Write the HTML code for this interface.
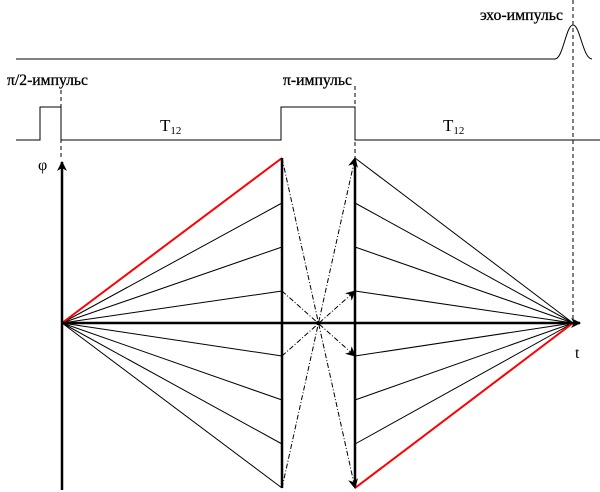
<!DOCTYPE html>
<html><head><style>body{margin:0;background:#fff}svg{display:block}</style></head><body>
<svg width="600" height="492" viewBox="0 0 600 492" xmlns="http://www.w3.org/2000/svg" font-family="Liberation Serif, serif">
<defs>
<marker id="a" markerWidth="10" markerHeight="10" refX="9" refY="5" orient="auto" markerUnits="userSpaceOnUse"><path d="M0,0 L10,5 L0,10 L3,5 Z" fill="#000"/></marker>
</defs>
<g stroke="#000" stroke-width="1" fill="none">
<path d="M16,59 H555 C563,59 566,25 573,25 C580,25 583,59 592,59"/>
<path d="M16,140 H40 V107 H61 V140 H281 V107 H355 V140 H600"/>
</g>
<g stroke="#000" stroke-width="1" stroke-dasharray="4,3" fill="none">
<line x1="61" y1="90" x2="61" y2="160"/>
<line x1="355" y1="86" x2="355" y2="160"/>
<line x1="573" y1="0" x2="573" y2="323"/>
</g>
<g font-size="15.5" fill="#000" stroke="#000" stroke-width="0.3">
<text x="7" y="85" textLength="81" lengthAdjust="spacingAndGlyphs">π/2-импульс</text>
<text x="283" y="85" textLength="69" lengthAdjust="spacingAndGlyphs">π-импульс</text>
<text x="480" y="20" textLength="83" lengthAdjust="spacingAndGlyphs">эхо-импульс</text>
</g>
<g font-size="17" fill="#000">
<text x="160" y="131">T<tspan font-size="11" dy="3">12</tspan></text>
<text x="443" y="131">T<tspan font-size="11" dy="3">12</tspan></text>
<text x="38" y="170" font-size="16">φ</text>
<text x="575" y="358" font-size="16">t</text>
</g>
<g stroke="#000" stroke-width="1">
<line x1="62" y1="323" x2="282" y2="203"/>
<line x1="62" y1="323" x2="282" y2="247"/>
<line x1="62" y1="323" x2="282" y2="291"/>
<line x1="62" y1="323" x2="282" y2="356"/>
<line x1="62" y1="323" x2="282" y2="400"/>
<line x1="62" y1="323" x2="282" y2="444"/>
<line x1="62" y1="323" x2="282" y2="488"/>
<line x1="355" y1="158" x2="573" y2="323"/>
<line x1="355" y1="203" x2="573" y2="323"/>
<line x1="355" y1="247" x2="573" y2="323"/>
<line x1="355" y1="291" x2="573" y2="323"/>
<line x1="355" y1="356" x2="573" y2="323"/>
<line x1="355" y1="400" x2="573" y2="323"/>
<line x1="355" y1="444" x2="573" y2="323"/>
</g>
<g stroke="red" stroke-width="2">
<line x1="62" y1="323" x2="282" y2="158"/>
<line x1="355" y1="488" x2="573" y2="323"/>
</g>
<g stroke="#000" stroke-width="1" stroke-dasharray="5,2,1,2" fill="none">
<line x1="282" y1="158" x2="355" y2="488" marker-end="url(#a)"/>
<line x1="282" y1="488" x2="355" y2="158" marker-end="url(#a)"/>
<line x1="282" y1="291" x2="355" y2="356" marker-end="url(#a)"/>
<line x1="282" y1="356" x2="355" y2="291" marker-end="url(#a)"/>
</g>
<g stroke="#000" stroke-width="2.5" fill="none">
<line x1="62" y1="490" x2="62" y2="162" marker-end="url(#a)"/>
<line x1="62" y1="323" x2="580" y2="323" marker-end="url(#a)"/>
<line x1="282" y1="158" x2="282" y2="488"/>
<line x1="355" y1="160" x2="355" y2="486"/>
</g>
<circle cx="318" cy="323" r="2" fill="#000"/>
</svg>
</body></html>
